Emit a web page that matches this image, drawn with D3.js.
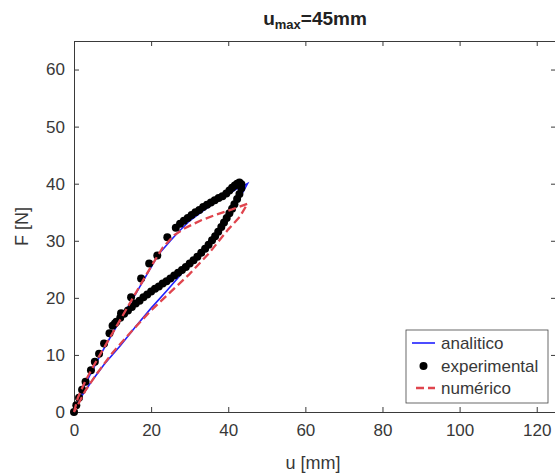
<!DOCTYPE html>
<html>
<head>
<meta charset="utf-8">
<script src="https://cdn.jsdelivr.net/npm/d3@7"></script>
<style>
  body { margin: 0; background: #fff; }
  svg { font-family: "Liberation Sans", Arial, sans-serif; }
</style>
</head>
<body>
<svg id="chart" width="555" height="475"></svg>
<script>
// x ticks / y ticks
const xTicks = [0, 20, 40, 60, 80, 100, 120];
const yTicks = [0, 10, 20, 30, 40, 50, 60];

// analitico: loading branch then unloading branch
const anaU = [0, 2, 5, 8, 12, 16, 20, 24, 28, 32, 36, 40, 43, 45,
              42, 38, 34, 30, 27, 25, 22, 19, 16, 13, 10, 7, 4, 2, 0];
const anaF = [0, 2.8, 5.8, 8.5, 11.6, 15, 18.2, 21.2, 24.3, 27.4, 30.7, 34.4, 37.5, 40,
              39, 37.3, 35.5, 33.5, 31.5, 30, 27.7, 24.2, 20.7, 17.3, 13.8, 10.2, 6.3, 3.6, 0];

// experimental: sparse loading, dense upper branch, dense lower branch
const expU = [0, 0.6, 1.3, 2.1, 3, 4.4, 5.4, 6.5, 7.8, 9.2, 10.6, 12.2, 14.8, 17.4, 19.5, 21.6, 24.2,
              26.4, 27.5, 28.5, 29.5, 30.5, 31.5, 32.5, 33.5, 34.5, 35.5, 36.5, 37.5, 38.5, 39.5, 40.3, 41, 41.7, 42.3, 42.9, 43.4,
              43.4, 42.9, 42.3, 41.6, 41, 40.3, 39.6, 38.9, 38.2, 37.4, 36.6, 35.8, 34.9, 34, 33, 32, 31, 30, 29, 28, 27, 26,
              25, 24, 23, 22, 21, 20, 19, 18, 17, 16, 15, 14, 13, 12, 11, 10];
const expF = [0, 1.2, 2.5, 3.9, 5.3, 7.3, 8.8, 10.2, 12, 13.8, 15.5, 17.3, 20.1, 23.4, 26, 27.4, 30.6,
              32.3, 33, 33.5, 34, 34.5, 35, 35.4, 35.9, 36.3, 36.7, 37.1, 37.5, 37.8, 38.3, 38.8, 39.3, 39.7, 40, 40.2, 39.9,
              39.2, 38.2, 37.3, 36.4, 35.6, 34.8, 34, 33.2, 32.4, 31.6, 30.8, 30.1, 29.3, 28.6, 27.9, 27.2, 26.6, 26, 25.4, 24.9, 24.4, 23.9,
              23.4, 22.9, 22.5, 22, 21.6, 21.1, 20.6, 20.1, 19.5, 19, 18.4, 17.8, 17.2, 16.5, 15.8, 15.1];

// numerico: upper loading branch then lower unloading branch
const numU = [0, 1, 3, 5, 8, 11, 14, 17, 20, 23, 26, 29, 33, 37, 41, 45,
              43, 40, 35, 30, 25, 20, 15, 10, 6, 3, 0];
const numF = [0, 2.5, 5.5, 8, 11.5, 15, 18.5, 22, 25.5, 28.8, 31, 32.3, 33.6, 34.6, 35.5, 36.5,
              34.2, 32, 27.8, 24.2, 21, 17.8, 14.2, 10.4, 6.8, 3.8, 0];

const legendLabels = ["analitico", "experimental", "numérico"];

const W = 555, H = 475;
const margin = { top: 41, right: -1, bottom: 63, left: 74 };
const innerW = W - margin.left - margin.right;
const innerH = H - margin.top - margin.bottom;

const svg = d3.select("#chart");
const g = svg.append("g").attr("transform", `translate(${margin.left},${margin.top})`);

const x = d3.scaleLinear().domain([0, 125]).range([0, innerW]);
const y = d3.scaleLinear().domain([0, 65]).range([innerH, 0]);

const axisColor = "#3a3a3a";
const tickLen = 5;
const labelColor = "#383838";

// bottom axis
g.append("g")
  .attr("transform", `translate(0,${innerH})`)
  .call(d3.axisBottom(x).tickValues(xTicks).tickSize(-tickLen).tickPadding(12))
  .call(a => a.select(".domain").attr("stroke", axisColor))
  .call(a => a.selectAll(".tick line").attr("stroke", axisColor))
  .call(a => a.selectAll(".tick text").attr("fill", labelColor).style("font-size", "17px"));

// top axis (ticks only)
g.append("g")
  .call(d3.axisTop(x).tickValues(xTicks).tickSize(-tickLen).tickFormat(""))
  .call(a => a.select(".domain").attr("stroke", axisColor))
  .call(a => a.selectAll(".tick line").attr("stroke", axisColor));

// left axis
g.append("g")
  .call(d3.axisLeft(y).tickValues(yTicks).tickSize(-tickLen).tickPadding(9))
  .call(a => a.select(".domain").attr("stroke", axisColor))
  .call(a => a.selectAll(".tick line").attr("stroke", axisColor))
  .call(a => a.selectAll(".tick text").attr("fill", labelColor).style("font-size", "17px"));

// right axis (ticks only)
g.append("g")
  .attr("transform", `translate(${innerW},0)`)
  .call(d3.axisRight(y).tickValues(yTicks).tickSize(-tickLen).tickFormat(""))
  .call(a => a.select(".domain").attr("stroke", axisColor))
  .call(a => a.selectAll(".tick line").attr("stroke", axisColor));

const line = d3.line().x(d => x(d[0])).y(d => y(d[1]));

// analitico
g.append("path")
  .datum(d3.zip(anaU, anaF))
  .attr("d", line)
  .attr("fill", "none")
  .attr("stroke", "#2020ff")
  .attr("stroke-width", 1.6);

// experimental
g.selectAll(".exp")
  .data(d3.zip(expU, expF))
  .join("circle")
    .attr("class", "exp")
    .attr("cx", d => x(d[0]))
    .attr("cy", d => y(d[1]))
    .attr("r", 4)
    .attr("fill", "#000");

// numerico
g.append("path")
  .datum(d3.zip(numU, numF))
  .attr("d", line)
  .attr("fill", "none")
  .attr("stroke", "#e0454e")
  .attr("stroke-width", 2.3)
  .attr("stroke-dasharray", "8,4");

// title
const title = svg.append("text")
  .attr("x", margin.left + innerW / 2)
  .attr("y", 25)
  .attr("text-anchor", "middle")
  .style("font-size", "19px")
  .style("font-weight", "bold")
  .attr("fill", "#222");
title.append("tspan").text("u");
title.append("tspan").attr("dy", 4).style("font-size", "13px").text("max");
title.append("tspan").attr("dy", -4).text("=45mm");

// axis labels
svg.append("text")
  .attr("x", margin.left + innerW / 2 - 2)
  .attr("y", 469)
  .attr("text-anchor", "middle")
  .style("font-size", "18px")
  .attr("fill", labelColor)
  .text("u [mm]");

svg.append("text")
  .attr("transform", `translate(28,${margin.top + innerH / 2}) rotate(-90)`)
  .attr("text-anchor", "middle")
  .style("font-size", "18px")
  .attr("fill", labelColor)
  .text("F [N]");

// legend
const lg = svg.append("g").attr("transform", "translate(406,330)");
lg.append("rect")
  .attr("width", 142).attr("height", 73)
  .attr("fill", "#fff")
  .attr("stroke", "#444")
  .attr("stroke-width", 0.8);

const rowY = [13, 36, 58];
lg.append("line")
  .attr("x1", 6).attr("x2", 29).attr("y1", rowY[0]).attr("y2", rowY[0])
  .attr("stroke", "#2020ff").attr("stroke-width", 1.6);
lg.append("circle")
  .attr("cx", 17.5).attr("cy", rowY[1]).attr("r", 4).attr("fill", "#000");
lg.append("line")
  .attr("x1", 6).attr("x2", 29).attr("y1", rowY[2]).attr("y2", rowY[2])
  .attr("stroke", "#e0454e").attr("stroke-width", 2.3).attr("stroke-dasharray", "8,4")
  .attr("stroke-dashoffset", -4);

lg.selectAll(".lgtext")
  .data(legendLabels)
  .join("text")
    .attr("class", "lgtext")
    .attr("x", 35)
    .attr("y", (d, i) => rowY[i])
    .attr("dy", "0.35em")
    .style("font-size", "17px")
    .attr("fill", labelColor)
    .text(d => d);
</script>
</body>
</html>
